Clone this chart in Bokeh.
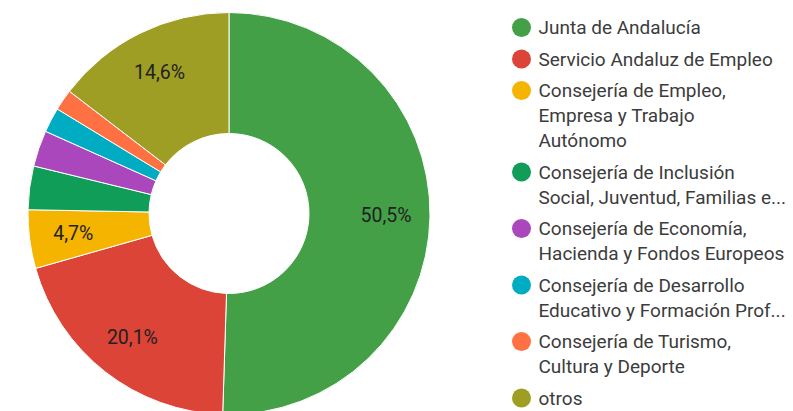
import numpy as np
from bokeh.plotting import figure
from bokeh.models import Range1d, ColumnDataSource
from bokeh.core.properties import value
from bokeh.embed import file_html
from bokeh.resources import INLINE

# ---- data ----
categories = [
    "Junta de Andalucía",
    "Servicio Andaluz de Empleo",
    "Consejería de Empleo, Empresa y Trabajo Autónomo",
    "Consejería de Inclusión Social, Juventud, Familias e...",
    "Consejería de Economía, Hacienda y Fondos Europeos",
    "Consejería de Desarrollo Educativo y Formación Prof...",
    "Consejería de Turismo, Cultura y Deporte",
    "otros",
]
legend_lines = [
    ["Junta de Andalucía"],
    ["Servicio Andaluz de Empleo"],
    ["Consejería de Empleo,", "Empresa y Trabajo", "Autónomo"],
    ["Consejería de Inclusión", "Social, Juventud, Familias e..."],
    ["Consejería de Economía,", "Hacienda y Fondos Europeos"],
    ["Consejería de Desarrollo", "Educativo y Formación Prof..."],
    ["Consejería de Turismo,", "Cultura y Deporte"],
    ["otros"],
]
values = [50.5, 20.1, 4.7, 3.5, 2.9, 2.0, 1.7, 14.6]
pct_labels = ["50,5%", "20,1%", "4,7%", "", "", "", "", "14,6%"]
colors = ["#43A047", "#DB4437", "#F4B400", "#0F9D58",
          "#AB47BC", "#00ACC1", "#FF7043", "#9E9D24"]

# ---- layout ----
W, H = 793, 411
cx, cy = 228.5, -213.0
r_out, r_in = 201.0, 80.0
r_lab = 157.0
FONT = "Roboto"

p = figure(width=W, height=H, output_backend="svg", toolbar_location=None,
           x_range=Range1d(0, W), y_range=Range1d(-H, 0),
           min_border=0, outline_line_color=None)
p.axis.visible = False
p.grid.visible = False
p.background_fill_color = "white"
p.border_fill_color = "white"

vals = np.array(values, dtype=float)
frac = vals / vals.sum()
cum_end = np.cumsum(frac) * 2 * np.pi
cum_start = cum_end - frac * 2 * np.pi
start = np.pi / 2 - cum_start
end = np.pi / 2 - cum_end
mid = (cum_start + cum_end) / 2

src = ColumnDataSource(dict(start=start, end=end, color=colors, cat=categories))
p.annular_wedge(x=cx, y=cy, inner_radius=r_in, outer_radius=r_out,
                start_angle="start", end_angle="end", direction="clock",
                fill_color="color", line_color="white", line_width=1, source=src)

lab_src = ColumnDataSource(dict(
    x=cx + r_lab * np.sin(mid),
    y=cy + r_lab * np.cos(mid),
    t=pct_labels,
))
p.text(x="x", y="y", text="t", source=lab_src, text_font=value(FONT),
       text_font_size="19.5px", text_color="#222222",
       text_align="center", text_baseline="middle")

# ---- legend ----
leg_x_dot, leg_x_text = 521.0, 538.0
line_h, item_gap = 25.0, 31.5
dot_y, tx, ty, tt = [], [], [], []
y = 27.0
for lines in legend_lines:
    dot_y.append(-y)
    for i, ln in enumerate(lines):
        tx.append(leg_x_text)
        ty.append(-(y + i * line_h))
        tt.append(ln)
    y += (len(lines) - 1) * line_h + item_gap

p.scatter(x=[leg_x_dot] * len(dot_y), y=dot_y, size=19, marker="circle",
          fill_color=colors, line_color=None)
p.text(x=tx, y=ty, text=tt, text_font=value(FONT), text_font_size="19px",
       text_color="#3c3c3c", text_align="left", text_baseline="middle")

open("out.html", "w").write(file_html(p, INLINE))
